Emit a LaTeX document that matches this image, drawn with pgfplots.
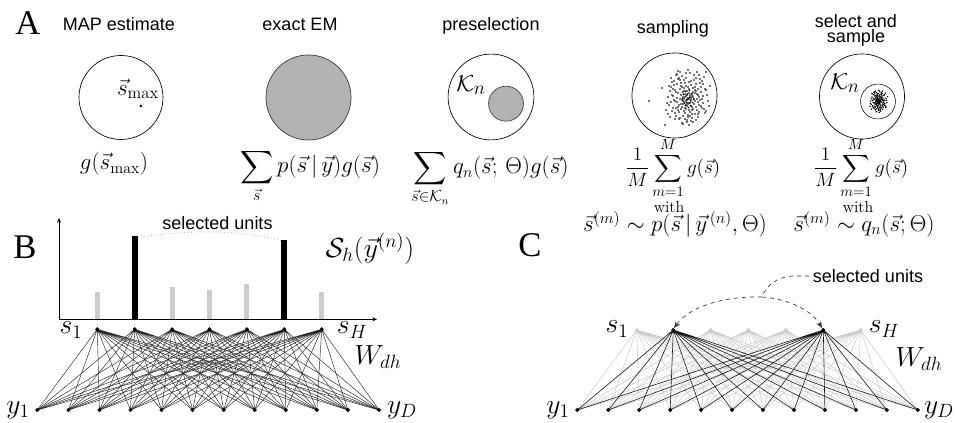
\documentclass[border=0pt]{standalone}
\usepackage{amsmath}
\usepackage{exscale}
\usepackage{fontspec}
\setsansfont{Liberation Sans}
\newfontfamily\timesf{Liberation Serif}
\usepackage{pgfplots}
\pgfplotsset{compat=1.18}
\usetikzlibrary{arrows.meta}
\newcommand\fan[4]{%
  \gdef\fanpts{}%
  \foreach \b in \botlist {\xdef\fanpts{\fanpts(#2,#3)(\b,#4)}}%
  \edef\fantmp{\noexpand\addplot[#1] coordinates {\fanpts};}\fantmp}
\newcommand\vs{{\smash{\vec s}\vphantom{s}}}
\newcommand\vy{{\smash{\vec y}\vphantom{y}}}
\begin{document}
\begin{tikzpicture}[
  lab/.style={font=\sffamily\fontsize{13.5}{16}\selectfont, anchor=base, inner sep=0pt},
  mth/.style={font=\fontsize{17}{20}\selectfont, anchor=base, inner sep=0pt},
  mths/.style={font=\fontsize{15.5}{18}\selectfont, anchor=base, inner sep=0pt},
  big/.style={font=\fontsize{20}{24}\selectfont, anchor=center, inner sep=0pt},
  letter/.style={font=\timesf\fontsize{26}{30}\selectfont, anchor=center, inner sep=0pt}]
\begin{axis}[width=717.75pt, height=317.25pt, scale only axis,
  xmin=0, xmax=957, ymin=0, ymax=423, y dir=reverse, hide axis, clip=false,
  netB/.style={black!85, line width=0.35pt, line join=round, no marks},
  netCg/.style={black!20, line width=0.4pt, line join=round, no marks},
  netCb/.style={black!90, line width=0.45pt, line join=round, no marks}]
\path (axis cs:0,0) rectangle (axis cs:957,423);
% ---------------- Panel A ----------------
\node[letter] at (axis cs:28,23) {A};
\node[lab] at (axis cs:119,31) {MAP estimate};
\node[lab] at (axis cs:300,31) {exact EM};
\node[lab] at (axis cs:491,31) {preselection};
\node[lab] at (axis cs:673,34) {sampling};
\node[lab] at (axis cs:856,28) {select and};
\node[lab] at (axis cs:856,43) {sample};
% circles
\draw[line width=0.5pt] (axis cs:121,97.5) circle[radius=31.5pt];
\draw[line width=0.5pt, draw=black!80, fill=black!30] (axis cs:308.5,97.5) circle[radius=31.9pt];
\draw[line width=0.5pt] (axis cs:491,97) circle[radius=32.2pt];
\draw[line width=0.5pt, draw=black!75, fill=black!30] (axis cs:506,103.7) circle[radius=13.1pt];
\draw[line width=0.5pt] (axis cs:674.5,95.5) circle[radius=31.9pt];
\draw[line width=0.5pt] (axis cs:862,96.5) circle[radius=31.9pt];
\draw[line width=0.4pt] (axis cs:878,101.5) circle[radius=13.1pt];
\node[font=\fontsize{18}{20}\selectfont, anchor=center, inner sep=0pt] at (axis cs:138,89) {$\vec{s}_{\max}$};
\addplot[only marks, mark=*, mark size=0.7pt, black] coordinates {(140.7,106)};
\node[font=\fontsize{19}{22}\selectfont, anchor=center, inner sep=0pt] at (axis cs:471,85) {$\mathcal{K}_n$};
\node[font=\fontsize{19}{22}\selectfont, anchor=center, inner sep=0pt] at (axis cs:845,83) {$\mathcal{K}_n$};
% samples from the posterior
\addplot[only marks, mark=*, mark size=0.3pt, black] coordinates {
(689,93)(678,110)(698,102)(684,80)(692,107)(672,95)(687,120)(695,87)(681,104)(703,96)
(675,113)(690,73)(686,101)(680,89)(699,112)(667,103)(693,92)(688,115)(683,97)(696,78)
(677,84)(701,106)(685,108)(691,85)(670,117)(694,99)(682,76)(706,90)(674,100)(689,125)
(697,94)(679,105)(687,91)(684,111)(700,83)(676,92)(692,118)(704,109)(671,87)(690,103)
(681,95)(695,114)(678,79)(686,86)(698,89)(673,108)(688,98)(693,122)(683,116)(702,81)
(668,97)(691,100)(680,72)(696,107)(685,94)(708,101)(677,102)(689,82)(682,123)(699,97)
(687,106)(675,90)(694,75)(672,111)(705,113)(684,88)(692,96)(679,119)(697,110)(686,78)
(690,112)(669,105)(701,92)(681,83)(695,90)(676,116)(688,70)(710,86)(683,104)(693,109)
(674,81)(698,117)(680,99)(687,95)(703,103)(678,93)(691,121)(685,113)(696,84)(671,78)
(689,89)(666,110)(700,100)(682,107)(694,80)(677,74)(692,114)(707,95)(684,91)(686,109)
(673,96)(697,72)(690,97)(679,112)(702,108)(675,101)(688,117)(695,93)(681,86)(699,105)
(670,91)(693,88)(683,124)(704,77)(687,103)(676,75)(691,81)(680,118)(698,95)(685,83)
(706,111)(678,107)(689,110)(674,85)(696,120)(682,100)(701,87)(668,114)(692,94)(686,73)
(694,104)(672,82)(697,99)(684,102)(709,106)(679,78)(690,116)(677,98)(700,79)(688,87)
(681,109)(695,101)(669,86)(703,84)(687,122)(675,119)(693,97)(683,92)(698,114)(680,80)
(691,106)(671,102)(705,89)(686,105)(678,71)(696,91)(685,119)(699,75)(676,108)(689,99)
(692,110)(673,89)(702,99)(682,87)(649,101)(662,88)(665,125)(706,72)
(688,99)(685,97)(690,95)(687,100)(684,99)(689,103)(686,96)(691,98)(683,101)(688,104)
(686.5,99.5)(689.5,97.5)(684.5,103.5)(690.5,101)(687.5,94)(685.5,91.5)(692.5,102.5)(683.5,94.5)
(688.5,107.5)(691.5,93.5)(685.5,105.5)(693.5,99.5)(682.5,98.5)(689.5,90.5)(686.5,102.5)(690.5,105.5)};
\addplot[only marks, mark=*, mark size=0.3pt, black] coordinates {
(879.2,99.5)(874.8,106.3)(882.8,103.1)(877.2,94.3)(880.4,105.1)(872.4,100.3)(878.4,110.3)
(881.6,97.1)(876,103.9)(884.8,100.7)(873.6,107.5)(879.6,91.5)(878,102.7)(875.6,97.9)
(883.2,107.1)(870.4,103.5)(880.8,99.1)(878.8,108.3)(876.8,101.1)(882,93.5)(874.4,95.9)
(884,104.7)(877.6,105.5)(880,96.3)(871.6,109.1)(881.2,101.9)(876.4,92.7)(886,98.3)
(873.2,102.3)(879.2,112.3)(882.4,99.9)(875.2,104.3)(878.4,98.7)(877.2,106.7)(883.6,95.5)
(874,99.1)(880.4,109.5)(885.2,105.9)(872,97.1)(879.6,103.5)(876,100.3)(881.6,107.9)
(874.8,93.9)(878,96.7)(882.8,97.9)(872.8,105.5)(878.8,101.5)(880.8,111.1)(876.8,108.7)
(884.4,94.7)(870.8,101.1)(880,102.3)(875.6,91.1)(882,105.1)(877.6,99.9)(886.8,102.7)
(874.4,103.1)(879.2,95.1)(876.4,111.5)(883.2,101.1)(878.4,104.7)(873.6,98.3)(881.2,92.3)
(872.4,106.7)(885.6,107.5)(877.2,97.5)(880.4,100.7)(875.2,109.9)(882.4,106.3)(878,93.5)
(879.6,107.1)(871.2,104.3)(884,99.1)(876,95.5)(881.6,98.3)(874,108.7)(878.8,90.3)
(887.6,96.7)(876.8,103.9)(880.8,105.9)(873.2,94.7)(882.8,109.1)(875.6,101.9)(878.4,100.3)
(884.8,103.5)(874.8,99.5)(880,110.7)(877.6,107.5)(882,95.9)(872,93.5)(879.2,97.9)
(870,106.3)(883.6,102.3)(876.4,105.1)(881.2,94.3)(874.4,91.9)(880.4,107.9)(886.4,100.3)
(877.2,98.7)(878,105.9)(872.8,100.7)(882.4,91.1)(879.6,101.1)(875.2,107.1)(884.4,105.5)
(873.6,102.7)(878.8,109.1)(881.6,99.5)(876,96.7)(883.2,104.3)(871.6,98.7)(880.8,97.5)
(876.8,111.9)(885.2,93.1)(878.4,103.5)(874,92.3)(880,94.7)(875.6,109.5)(882.8,100.3)
(877.6,95.5)(886,106.7)(878,101)(877,102)(879,102)(878,100)(877,100)(879,101)
(876,101.5)(880,101.5)(878,103)(878,99)(877,98.5)(879,104)(876.5,99.5)(879.5,99.5)
(876.5,103.5)(879.5,103.5)(877.5,101.5)(878.5,102.5)(878.5,100.5)(877.5,103)};
% formulas
\node[mth] at (axis cs:114,170) {$g(\vec{s}_{\max})$};
\node[mth] at (axis cs:310,173) {$\displaystyle\sum_{\vec s} p(\vec s\,|\,\vec y)g(\vec s)$};
\node[mth] at (axis cs:490,174) {$\displaystyle\sum_{\vec s\in\mathcal{K}_n} q_n(\vec s;\,\Theta)g(\vec s)$};
\node[mths] at (axis cs:673,173.5) {$\displaystyle\frac{1}{M}\sum_{m=1}^{M} g(\vec s)$};
\node[mths] at (axis cs:861,173.5) {$\displaystyle\frac{1}{M}\sum_{m=1}^{M} g(\vec s)$};
\node[font=\fontsize{12}{14}\selectfont, anchor=base, inner sep=0pt] at (axis cs:669,213) {with};
\node[font=\fontsize{12}{14}\selectfont, anchor=base, inner sep=0pt] at (axis cs:858,213) {with};
\node[mth] at (axis cs:675,231.5) {$\vs^{(m)}\sim p(\vec s\,|\,\vy^{\,(n)},\Theta)$};
\node[mth] at (axis cs:864,231.5) {$\vs^{(m)}\sim q_n(\vec s;\Theta)$};
% ---------------- Panel B ----------------
\node[letter] at (axis cs:25,247) {B};
\addplot[black, line width=0.6pt, -{Stealth[length=3.5pt,width=3pt]}] coordinates {(59,319.3)(59,218)};
\addplot[black, line width=0.6pt, -{Stealth[length=3.5pt,width=3pt]}] coordinates {(59,319.3)(377,319.3)};
\addplot[black!20, line width=3.8pt, line cap=butt] coordinates {(97.3,319.3)(97.3,292.3)};
\addplot[black!20, line width=3.8pt, line cap=butt] coordinates {(172.1,319.3)(172.1,287.3)};
\addplot[black!20, line width=3.8pt, line cap=butt] coordinates {(209.5,319.3)(209.5,290.3)};
\addplot[black!20, line width=3.8pt, line cap=butt] coordinates {(246.9,319.3)(246.9,284)};
\addplot[black!20, line width=3.8pt, line cap=butt] coordinates {(321.7,319.3)(321.7,291.7)};
\addplot[black, line width=4.5pt, line cap=butt] coordinates {(134.7,319.3)(134.7,236)};
\addplot[black, line width=4.5pt, line cap=butt] coordinates {(284.3,319.3)(284.3,240)};
\draw[black!45, line width=0.5pt, dotted] (axis cs:138,238) .. controls (axis cs:180,230) and (axis cs:240,229) .. (axis cs:282,241);
\node[lab] at (axis cs:217.5,230) {selected units};
\node[font=\fontsize{22}{26}\selectfont, anchor=center, inner sep=0pt] at (axis cs:370,249) {$\mathcal{S}_h(\vec y^{(n)})$};
\def\botlist{37.3,68.4,99.4,130.5,161.5,192.6,223.7,254.7,285.8,316.8,347.9,379.0}
\fan{netB}{97.3}{329.3}{410}
\fan{netB}{134.7}{329.3}{410}
\fan{netB}{172.1}{329.3}{410}
\fan{netB}{209.5}{329.3}{410}
\fan{netB}{246.9}{329.3}{410}
\fan{netB}{284.3}{329.3}{410}
\fan{netB}{321.7}{329.3}{410}
\addplot[only marks, mark=*, mark size=1.3pt, black] coordinates {
(97.3,329.3)(134.7,329.3)(172.1,329.3)(209.5,329.3)(246.9,329.3)(284.3,329.3)(321.7,329.3)};
\addplot[only marks, mark=*, mark size=1.3pt, black] coordinates {
(37.3,410)(68.4,410)(99.4,410)(130.5,410)(161.5,410)(192.6,410)(223.7,410)(254.7,410)(285.8,410)(316.8,410)(347.9,410)(379.0,410)};
\node[big] at (axis cs:71,330) {$s_1$};
\node[big] at (axis cs:352,330) {$s_H$};
\node[font=\fontsize{22}{26}\selectfont, anchor=center, inner sep=0pt] at (axis cs:378,357) {$W_{dh}$};
\node[big] at (axis cs:18,410) {$y_1$};
\node[big] at (axis cs:402,410) {$y_D$};
% ---------------- Panel C ----------------
\node[letter] at (axis cs:530,245) {C};
\def\botlist{577.3,608.3,639.2,670.2,701.1,732.1,763.0,794.0,824.9,855.9,886.8,917.8}
\fan{netCg}{636.7}{330}{410}
\fan{netCg}{710.7}{330}{410}
\fan{netCg}{748.3}{330}{410}
\fan{netCg}{786.0}{330}{410}
\fan{netCg}{860.7}{330}{410}
\fan{netCb}{673.3}{330}{410}
\fan{netCb}{823.3}{330}{410}
\addplot[only marks, mark=*, mark size=1.3pt, black!20] coordinates {
(636.7,330)(710.7,330)(748.3,330)(786.0,330)(860.7,330)};
\addplot[only marks, mark=*, mark size=1.3pt, black] coordinates {(673.3,330)(823.3,330)};
\addplot[only marks, mark=*, mark size=1.3pt, black] coordinates {
(577.3,410)(608.3,410)(639.2,410)(670.2,410)(701.1,410)(732.1,410)(763.0,410)(794.0,410)(824.9,410)(855.9,410)(886.8,410)(917.8,410)};
\node[lab] at (axis cs:868,283) {selected units};
\draw[black!80, line width=0.5pt, dashed] (axis cs:809,276) -- (axis cs:793,276) .. controls (axis cs:776,277) and (axis cs:766,286) .. (axis cs:762,297);
\draw[black!80, line width=0.5pt, dashed, -{Stealth[length=5pt,width=4pt]}] (axis cs:762,297) .. controls (axis cs:725,296) and (axis cs:690,306) .. (axis cs:674,328);
\draw[black!80, line width=0.5pt, dashed, -{Stealth[length=5pt,width=4pt]}] (axis cs:762,297) .. controls (axis cs:790,299) and (axis cs:812,311) .. (axis cs:822,328);
\node[big] at (axis cs:617,329) {$s_1$};
\node[big] at (axis cs:884,329) {$s_H$};
\node[font=\fontsize{22}{26}\selectfont, anchor=center, inner sep=0pt] at (axis cs:919,359) {$W_{dh}$};
\node[big] at (axis cs:558,410) {$y_1$};
\node[big] at (axis cs:939,410) {$y_D$};
\end{axis}
\end{tikzpicture}
\end{document}
